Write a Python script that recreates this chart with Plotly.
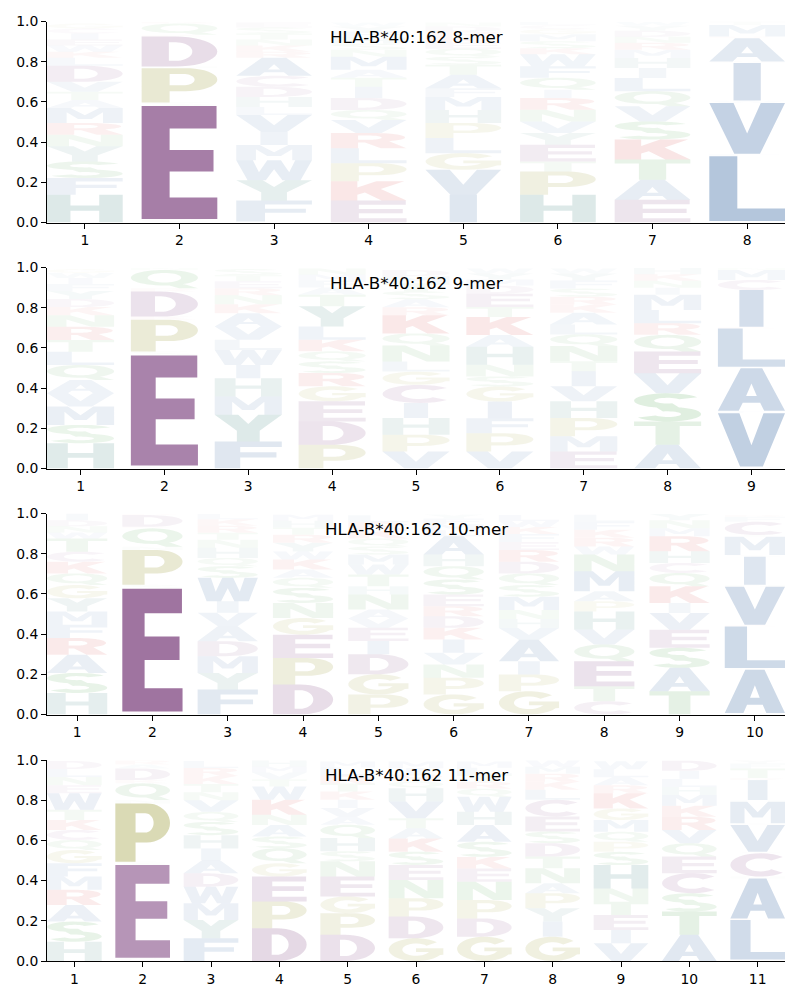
import math
import plotly.graph_objects as go

# ---------------- data (bottom-to-top stacks, heights = probabilities) ----------------
TITLES = ["HLA-B*40:162 8-mer", "HLA-B*40:162 9-mer", "HLA-B*40:162 10-mer", "HLA-B*40:162 11-mer"]

MER8_LETTERS = ["HFSYNRMATVDLKWEICG", "CESPNDKQR", "GFYWMIVLHDCARKNTSE", "EKPLRVQDITAMNSHFYW",
                "IVGLPHMFATSQEKRDN", "HPTEYVNRIQFWKSMGCL", "EATKSVQLIHMRNDYW", "CLFVWIGAKMT"]
MER8_HEIGHTS = [
    [.138, .083, .083, .075, .058, .058, .075, .04, .04, .05, .08, .04, .03, .03, .03, .03, .025, .025],
    [.017, .563, .017, .171, .008, .149, .009, .056, .01],
    [.005, .105, .10, .10, .075, .065, .085, .04, .05, .05, .055, .09, .03, .03, .03, .03, .03, .025],
    [.11, .095, .09, .075, .075, .065, .05, .06, .055, .045, .04, .065, .035, .03, .03, .03, .025, .02],
    [.138, .124, .083, .075, .075, .065, .065, .043, .067, .05, .04, .04, .03, .03, .025, .025, .02],
    [.138, .116, .05, .083, .058, .058, .058, .058, .041, .06, .057, .06, .03, .035, .035, .025, .02, .015],
    [.113, .10, .10, .10, .09, .075, .075, .066, .05, .05, .04, .035, .03, .03, .025, .02],
    [.008, .322, .012, .252, .013, .186, .008, .116, .008, .058, .017],
]

MER9_LETTERS = ["HSMVAQLTRNKDYFIWG", "CESPKDRQN", "FYMHIWLVAKNRETS", "PDEGRSQKLYTAFMN",
                "VPHICGLNQKRASTMD", "VPFIGSNHAKTEDMYW", "EMPHVITNQLAKRSFYW", "ATSVEQRLMINKH",
                "WVFAGLKICMN"]
MER9_HEIGHTS = [
    [.126, .091, .091, .066, .066, .075, .066, .058, .066, .058, .04, .04, .04, .035, .03, .025, .02],
    [.015, .547, .02, .158, .016, .124, .017, .091, .012],
    [.134, .133, .091, .091, .066, .075, .05, .066, .066, .045, .045, .035, .035, .03, .03],
    [.118, .116, .10, .075, .066, .058, .05, .058, .066, .10, .058, .035, .035, .03, .03],
    [.085, .083, .083, .075, .09, .066, .05, .08, .06, .09, .04, .04, .04, .04, .035, .03],
    [.085, .09, .075, .083, .075, .05, .058, .09, .058, .09, .05, .066, .04, .03, .03, .025],
    [.085, .075, .091, .083, .075, .075, .05, .075, .058, .05, .058, .04, .04, .04, .04, .035, .025],
    [.118, .116, .14, .10, .108, .083, .058, .066, .075, .035, .035, .033, .03],
    [.01, .265, .012, .212, .007, .191, .008, .183, .05, .049, .012],
]

MER10_LETTERS = ["HSARFMYGQKCTWNDI", "CESPNQKDR", "FYMDAVIWSQHNTRKL", "DPEGNSQAKWYRTHM",
                 "PGDIEVANHTWMSQKRL", "GPNVIKDRESQHALMFY", "GPIAVHNMSQDREFKWL", "CTEQVHPAMNWRKFL",
                 "TASEVIKQCHRMNY", "WAGLKVNISMTCFR"]
MER10_HEIGHTS = [
    [.107, .10, .09, .083, .066, .066, .066, .066, .058, .058, .05, .066, .03, .03, .03, .034],
    [.015, .611, .019, .173, .017, .091, .008, .058, .008],
    [.124, .083, .083, .075, .075, .066, .058, .116, .058, .041, .05, .04, .035, .035, .032, .027],
    [.149, .132, .116, .083, .075, .075, .05, .041, .05, .04, .043, .04, .035, .035, .03],
    [.10, .10, .10, .066, .066, .045, .045, .075, .041, .058, .05, .05, .04, .04, .04, .04, .035],
    [.10, .083, .066, .058, .066, .058, .058, .05, .058, .075, .066, .058, .091, .03, .03, .028, .02],
    [.116, .083, .066, .107, .058, .045, .045, .066, .058, .058, .058, .058, .04, .04, .035, .03, .03],
    [.066, .075, .124, .083, .075, .09, .05, .05, .10, .083, .04, .043, .04, .04, .035],
    [.116, .116, .10, .09, .083, .05, .083, .066, .05, .058, .075, .04, .04, .03],
    [.008, .215, .008, .207, .008, .19, .009, .14, .008, .091, .009, .066, .025, .01],
]

MER11_LETTERS = ["HSARMFGQCKTWENLD", "CESPNQKDAR", "FYMWDAIHSQVNTKRL", "DPEGQSANKWTVMH",
                 "DPGENSHQAVIKTRLM", "GDPNESKATVHQRIM", "GDPNEKSAHWQRTLM", "GIYPANTDSECLKRMW",
                 "VIETNHSPQMGKRALW", "ATSCEQVRKMHLID", "WLKANCSVGMHIRTFY"]
MER11_HEIGHTS = [
    [.096, .10, .083, .075, .066, .066, .066, .05, .05, .05, .05, .083, .04, .04, .04, .04],
    [.016, .461, .017, .29, .017, .083, .016, .058, .02, .02],
    [.113, .091, .083, .083, .066, .066, .058, .066, .066, .05, .058, .04, .04, .04, .04, .035],
    [.163, .133, .124, .066, .075, .058, .058, .05, .075, .066, .035, .035, .03, .03],
    [.13, .108, .083, .10, .075, .05, .066, .066, .04, .043, .041, .041, .04, .04, .04, .03],
    [.113, .108, .091, .091, .075, .066, .066, .05, .05, .083, .066, .035, .035, .03, .033],
    [.121, .091, .091, .091, .066, .058, .075, .083, .066, .075, .04, .035, .035, .035, .03],
    [.121, .075, .066, .075, .05, .075, .058, .066, .058, .075, .083, .05, .04, .04, .035, .03],
    [.088, .066, .075, .066, .066, .116, .066, .05, .05, .058, .058, .075, .04, .04, .04, .04],
    [.13, .116, .091, .10, .083, .066, .066, .066, .054, .054, .04, .04, .04, .05],
    [.008, .196, .008, .199, .009, .116, .008, .133, .008, .107, .009, .099, .01, .048, .025, .015],
]

PANELS = [(MER8_LETTERS, MER8_HEIGHTS), (MER9_LETTERS, MER9_HEIGHTS),
          (MER10_LETTERS, MER10_HEIGHTS), (MER11_LETTERS, MER11_HEIGHTS)]

# ---------------- styling ----------------
GROUP_RGB = {
    "acidic": (98, 27, 100), "cys": (112, 34, 108), "pg": (128, 128, 0),
    "polar": (34, 139, 34), "basic": (200, 0, 0), "hy": (10, 95, 90), "hydro": (21, 77, 146),
}
LETTER_GROUP = {"D": "acidic", "E": "acidic", "C": "cys", "P": "pg", "G": "pg",
                "S": "polar", "T": "polar", "N": "polar", "Q": "polar",
                "K": "basic", "R": "basic", "H": "hy", "Y": "hy",
                "A": "hydro", "V": "hydro", "L": "hydro", "I": "hydro", "M": "hydro",
                "F": "hydro", "W": "hydro"}
GLYPH_WIDTH = 0.8
FONT = "DejaVu Sans"


# ---------------- glyph outlines in a unit box ----------------
def arc(cx, cy, rx, ry, a0, a1, n=20):
    return [(cx + rx * math.cos(math.radians(a0 + (a1 - a0) * i / n)),
             cy + ry * math.sin(math.radians(a0 + (a1 - a0) * i / n))) for i in range(n + 1)]


def sector(cx, cy, rxo, ryo, rxi, ryi, a0, a1, n=24):
    return arc(cx, cy, rxo, ryo, a0, a1, n) + arc(cx, cy, rxi, ryi, a1, a0, n)


GLYPHS = {
    "A": [([(0, 0), (0.31, 0), (0.37, 0.19), (0.63, 0.19), (0.69, 0), (1, 0), (0.66, 1), (0.34, 1)], False),
          ([(0.42, 0.35), (0.58, 0.35), (0.5, 0.64)], True)],
    "C": [(sector(0.55, 0.5, 0.55, 0.5, 0.27, 0.28, 42, 318), False)],
    "D": [([(0, 0), (0.45, 0)] + arc(0.45, 0.5, 0.55, 0.5, -90, 90) + [(0, 1)], False),
          ([(0.36, 0.19), (0.45, 0.19)] + arc(0.45, 0.5, 0.22, 0.31, -90, 90) + [(0.36, 0.81)], True)],
    "E": [([(0, 0), (1, 0), (1, 0.19), (0.37, 0.19), (0.37, 0.42), (0.95, 0.42), (0.95, 0.61),
            (0.37, 0.61), (0.37, 0.8), (0.99, 0.8), (0.99, 1), (0, 1)], False)],
    "F": [([(0, 0), (0.38, 0), (0.38, 0.41), (0.92, 0.41), (0.92, 0.6), (0.38, 0.6), (0.38, 0.8),
            (1, 0.8), (1, 1), (0, 1)], False)],
    "G": [(arc(0.5, 0.5, 0.5, 0.5, 40, 332, 26) + [(1, 0.28), (1, 0.56), (0.5, 0.56), (0.5, 0.4), (0.74, 0.4)]
           + arc(0.5, 0.5, 0.25, 0.27, 330, 40, 26), False)],
    "H": [([(0, 0), (0.31, 0), (0.31, 0.42), (0.69, 0.42), (0.69, 0), (1, 0), (1, 1), (0.69, 1),
            (0.69, 0.61), (0.31, 0.61), (0.31, 1), (0, 1)], False)],
    "I": [([(0.32, 0), (0.68, 0), (0.68, 1), (0.32, 1)], False)],
    "K": [([(0, 0), (0.35, 0), (0.35, 0.3), (0.45, 0.41), (0.67, 0), (1, 0), (0.66, 0.6), (0.97, 1),
            (0.6, 1), (0.35, 0.68), (0.35, 1), (0, 1)], False)],
    "L": [([(0, 0), (1, 0), (1, 0.19), (0.37, 0.19), (0.37, 1), (0, 1)], False)],
    "M": [([(0, 0), (0.26, 0), (0.26, 0.72), (0.41, 0.27), (0.59, 0.27), (0.74, 0.72), (0.74, 0), (1, 0),
            (1, 1), (0.69, 1), (0.5, 0.52), (0.31, 1), (0, 1)], False)],
    "N": [([(0, 0), (0.29, 0), (0.29, 0.62), (0.66, 0), (1, 0), (1, 1), (0.71, 1), (0.71, 0.38),
            (0.34, 1), (0, 1)], False)],
    "P": [([(0, 0), (0.37, 0), (0.37, 0.33), (0.58, 0.33)] + arc(0.58, 0.665, 0.42, 0.335, -90, 90) + [(0, 1)], False),
          ([(0.37, 0.5), (0.55, 0.5)] + arc(0.55, 0.665, 0.15, 0.165, -90, 90) + [(0.37, 0.83)], True)],
    "Q": [(arc(0.5, 0.575, 0.5, 0.425, 0, 360, 48), False),
          (arc(0.5, 0.575, 0.25, 0.26, 0, 360, 40), True),
          ([(0.52, 0.2), (0.72, 0.0), (1.0, 0.0), (0.8, 0.22)], False)],
    "R": [([(0, 0), (0.36, 0), (0.36, 0.38), (0.45, 0.38), (0.66, 0), (1, 0), (0.77, 0.45)]
           + arc(0.56, 0.71, 0.42, 0.29, -52, 90) + [(0, 1)], False),
          ([(0.36, 0.56), (0.53, 0.56)] + arc(0.53, 0.695, 0.14, 0.135, -90, 90) + [(0.36, 0.83)], True)],
    "S": [(sector(0.5, 0.74, 0.5, 0.26, 0.2, 0.1, 28, 290), False),
          (sector(0.5, 0.26, 0.5, 0.26, 0.2, 0.1, -152, 110), False)],
    "T": [([(0.32, 0), (0.68, 0), (0.68, 0.81), (1, 0.81), (1, 1), (0, 1), (0, 0.81), (0.32, 0.81)], False)],
    "V": [([(0, 1), (0.32, 1), (0.5, 0.4), (0.68, 1), (1, 1), (0.67, 0), (0.33, 0)], False)],
    "W": [([(0, 1), (0.22, 1), (0.3, 0.4), (0.41, 1), (0.59, 1), (0.7, 0.4), (0.78, 1), (1, 1),
            (0.85, 0), (0.61, 0), (0.5, 0.55), (0.39, 0), (0.15, 0)], False)],
    "Y": [([(0, 1), (0.35, 1), (0.5, 0.66), (0.65, 1), (1, 1), (0.67, 0.4), (0.67, 0), (0.33, 0),
            (0.33, 0.4)], False)],
}


def signed_area(pts):
    s = 0.0
    for i in range(len(pts)):
        x1, y1 = pts[i]
        x2, y2 = pts[(i + 1) % len(pts)]
        s += x1 * y2 - x2 * y1
    return s / 2


def glyph_path(letter, xc, y0, h):
    x0 = xc - GLYPH_WIDTH / 2
    parts = []
    for pts, hole in GLYPHS[letter]:
        a = signed_area(pts)
        if (a > 0) == hole:
            pts = pts[::-1]
        coords = [f"{x0 + px * GLYPH_WIDTH:.4f},{y0 + py * h:.5f}" for px, py in pts]
        parts.append("M" + " L".join(coords) + " Z")
    return " ".join(parts)


# ---------------- figure ----------------
W, H = 800, 1000
ML, MR, MT, MB = 47, 15, 21, 39
PH = H - MT - MB
PANEL_TOPS = [21.5, 267.5, 513.5, 760.0]
PANEL_H = 201.0

fig = go.Figure()
shapes = []
annotations = []
layout_axes = {}

for i, (letters, heights) in enumerate(PANELS):
    n = len(letters)
    sfx = "" if i == 0 else str(i + 1)
    xa, ya = "x" + sfx, "y" + sfx
    top = PANEL_TOPS[i]
    bot = top + PANEL_H
    dom = [(H - MB - bot) / PH, (H - MB - top) / PH]
    dom = [max(0.0, dom[0]), min(1.0, dom[1])]

    axis_common = dict(showline=True, linecolor="black", linewidth=1, ticks="outside", ticklen=5,
                       tickwidth=1, tickcolor="black", showgrid=False, zeroline=False, fixedrange=True,
                       tickfont=dict(family=FONT, size=13.9, color="black"))
    layout_axes["xaxis" + sfx] = dict(axis_common, domain=[0, 1], anchor=ya, range=[0.6, n + 0.4],
                                      tickmode="array", tickvals=list(range(1, n + 1)),
                                      ticktext=[str(k) for k in range(1, n + 1)])
    layout_axes["yaxis" + sfx] = dict(axis_common, domain=dom, anchor=xa, range=[0, 1],
                                      tickmode="array", tickvals=[0, 0.2, 0.4, 0.6, 0.8, 1.0],
                                      ticktext=["0.0", "0.2", "0.4", "0.6", "0.8", "1.0"])

    fig.add_trace(go.Scatter(x=[], y=[], xaxis=xa, yaxis=ya, showlegend=False, hoverinfo="skip"))

    for col in range(n):
        pos = col + 1
        ybase = 0.0
        for letter, hgt in zip(letters[col], heights[col]):
            r, g, b = GROUP_RGB[LETTER_GROUP[letter]]
            alpha = max(0.0, min(1.0, hgt))
            shapes.append(dict(type="path", xref=xa, yref=ya, path=glyph_path(letter, pos, ybase, hgt),
                               fillcolor=f"rgba({r},{g},{b},{alpha:.3f})", line=dict(width=0),
                               fillrule="nonzero", layer="above"))
            ybase += hgt

    annotations.append(dict(text=TITLES[i], xref=xa + " domain", yref=ya + " domain", x=0.5, y=0.925,
                            xanchor="center", yanchor="middle", showarrow=False,
                            font=dict(family=FONT, size=16.7, color="black")))

fig.update_layout(width=W, height=H, margin=dict(l=ML, r=MR, t=MT, b=MB),
                  paper_bgcolor="white", plot_bgcolor="white", showlegend=False,
                  shapes=shapes, annotations=annotations, **layout_axes)

fig.write_html("out.html")
